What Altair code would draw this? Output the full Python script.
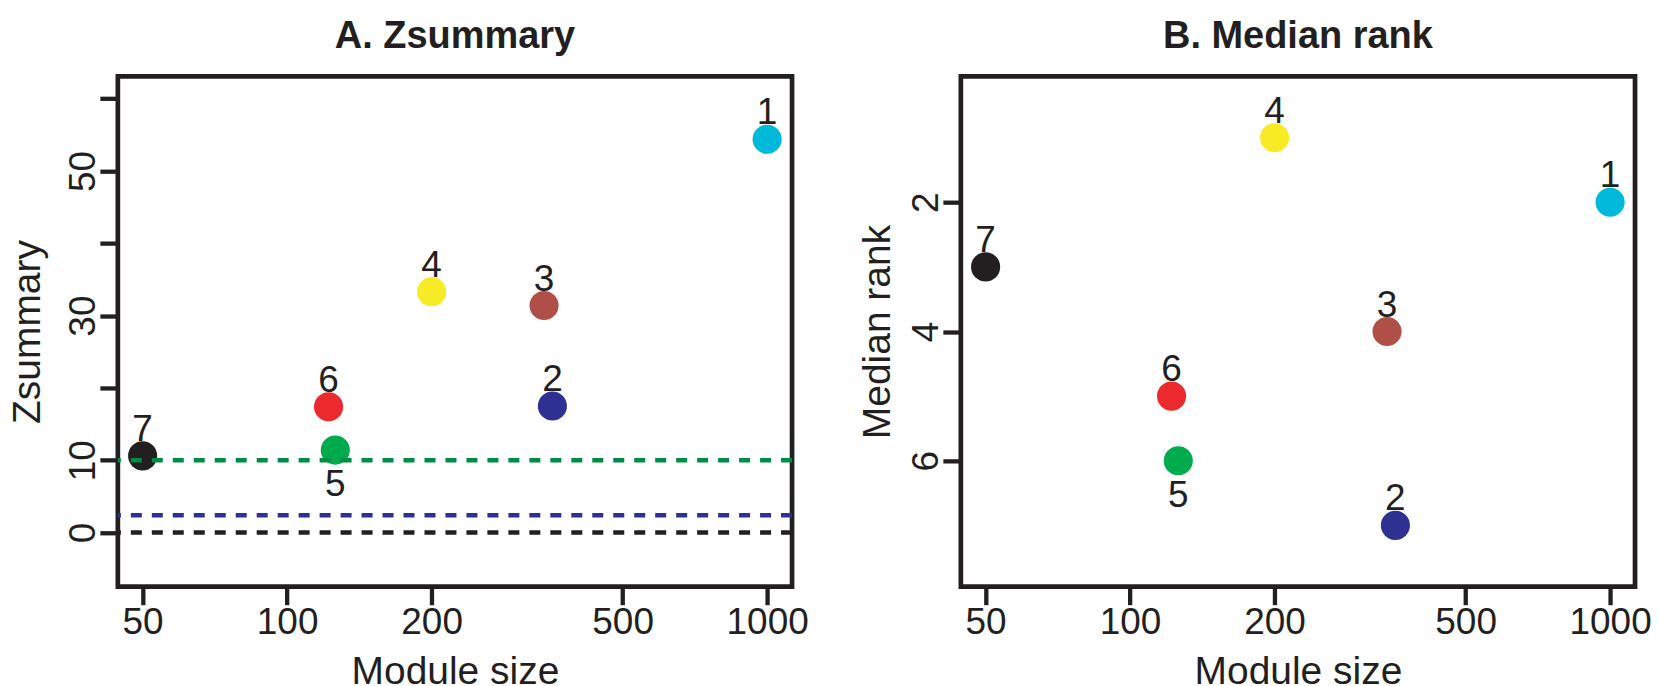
import altair as alt
import pandas as pd

# ---- data ----
modules = ["1", "2", "3", "4", "5", "6", "7"]
module_size = [1000, 357, 343, 200, 126, 122, 50]
zsummary = [54.4, 17.5, 31.4, 33.3, 11.4, 17.4, 10.6]
median_rank = [2, 7, 4, 1, 6, 5, 3]
point_colors = ["#00B8D9", "#2E3192", "#B04F48", "#F6EB24", "#00AB4E", "#EC2A2E", "#231F20"]
label_pos = ["above", "above", "above", "above", "below", "above", "above"]

threshold_values = [0, 2.4, 10]
threshold_colors = ["#231F20", "#2E3192", "#008C45"]

x_tick_values = [50, 100, 200, 500, 1000]
z_tick_values = [0, 10, 20, 30, 40, 50, 60]
rank_tick_values = [2, 4, 6]

df = pd.DataFrame({
    "module": modules,
    "size": module_size,
    "z": zsummary,
    "rank": median_rank,
    "color": point_colors,
    "pos": label_pos,
})
thr = pd.DataFrame({"z": threshold_values, "color": threshold_colors})

FONT = "Liberation Sans"
INK = "#231F20"
W, H = 675, 511

xscale = alt.Scale(type="log", domain=[44.4, 1127], nice=False)


def x_enc():
    return alt.X(
        "size:Q",
        scale=xscale,
        axis=alt.Axis(
            values=x_tick_values, format="d", title="Module size",
            tickSize=18, labelPadding=0, labelBaseline="top",
            titleX=W / 2, titleY=97, titleBaseline="alphabetic", titleAlign="center",
        ),
    )


def y_axis(title, values, title_x, label_expr=None):
    kw = dict(
        values=values, title=title, format="d", labelAngle=270, labelAlign="center",
        labelBaseline="alphabetic", tickSize=18, labelPadding=5,
        titleAngle=270, titleX=title_x, titleY=H / 2,
        titleBaseline="alphabetic", titleAlign="center",
    )
    if label_expr:
        kw["labelExpr"] = label_expr
    return alt.Axis(**kw)


def title(text):
    return alt.TitleParams(
        text=text, fontSize=38, font=FONT, fontWeight="bold", color=INK,
        anchor="middle", frame="group", offset=-10, baseline="alphabetic",
    )


# ---- Panel A ----
yA = alt.Y(
    "z:Q",
    scale=alt.Scale(domain=[-7.5, 63.1], nice=False, zero=False),
    axis=y_axis("Zsummary", z_tick_values, -78,
                "datum.value==20||datum.value==40||datum.value==60 ? '' : datum.label"),
)
baseA = alt.Chart(df)
ptsA = baseA.mark_circle(size=850, opacity=1).encode(
    x=x_enc(), y=yA, color=alt.Color("color:N", scale=None))
rulesA = alt.Chart(thr).mark_rule(strokeDash=[11, 10], strokeWidth=4.5).encode(
    y=alt.Y("z:Q"), color=alt.Color("color:N", scale=None))
labA_up = baseA.transform_filter(alt.datum.pos == "above").mark_text(
    fontSize=37, font=FONT, color=INK, baseline="alphabetic", dy=-15
).encode(x=alt.X("size:Q"), y=alt.Y("z:Q"), text="module:N")
labA_dn = baseA.transform_filter(alt.datum.pos == "below").mark_text(
    fontSize=37, font=FONT, color=INK, baseline="alphabetic", dy=46
).encode(x=alt.X("size:Q"), y=alt.Y("z:Q"), text="module:N")
panelA = alt.layer(ptsA, rulesA, labA_up, labA_dn).properties(
    width=W, height=H, title=title("A. Zsummary"))

# ---- Panel B ----
yB = alt.Y(
    "rank:Q",
    scale=alt.Scale(domain=[0.05, 7.95], reverse=True, nice=False, zero=False),
    axis=y_axis("Median rank", rank_tick_values, -71),
)
baseB = alt.Chart(df)
ptsB = baseB.mark_circle(size=850, opacity=1).encode(
    x=x_enc(), y=yB, color=alt.Color("color:N", scale=None))
labB_up = baseB.transform_filter(alt.datum.pos == "above").mark_text(
    fontSize=37, font=FONT, color=INK, baseline="alphabetic", dy=-15
).encode(x=alt.X("size:Q"), y=alt.Y("rank:Q"), text="module:N")
labB_dn = baseB.transform_filter(alt.datum.pos == "below").mark_text(
    fontSize=37, font=FONT, color=INK, baseline="alphabetic", dy=46
).encode(x=alt.X("size:Q"), y=alt.Y("rank:Q"), text="module:N")
panelB = alt.layer(ptsB, labB_up, labB_dn).properties(
    width=W, height=H, title=title("B. Median rank"))

chart = alt.hconcat(panelA, panelB, spacing=169, bounds="flush").properties(
    padding={"left": 6, "top": 15, "right": 5, "bottom": 0},
    background="white",
).configure_view(
    stroke=INK, strokeWidth=4.7
).configure_axis(
    domain=False, grid=False, tickColor=INK, tickWidth=4.3,
    labelFont=FONT, labelFontSize=37, labelColor=INK,
    titleFont=FONT, titleFontSize=39, titleColor=INK, titleFontWeight="normal",
    labelFlush=False, labelOverlap=False,
)

chart.save("out.html", embed_options={"renderer": "svg", "actions": False})
